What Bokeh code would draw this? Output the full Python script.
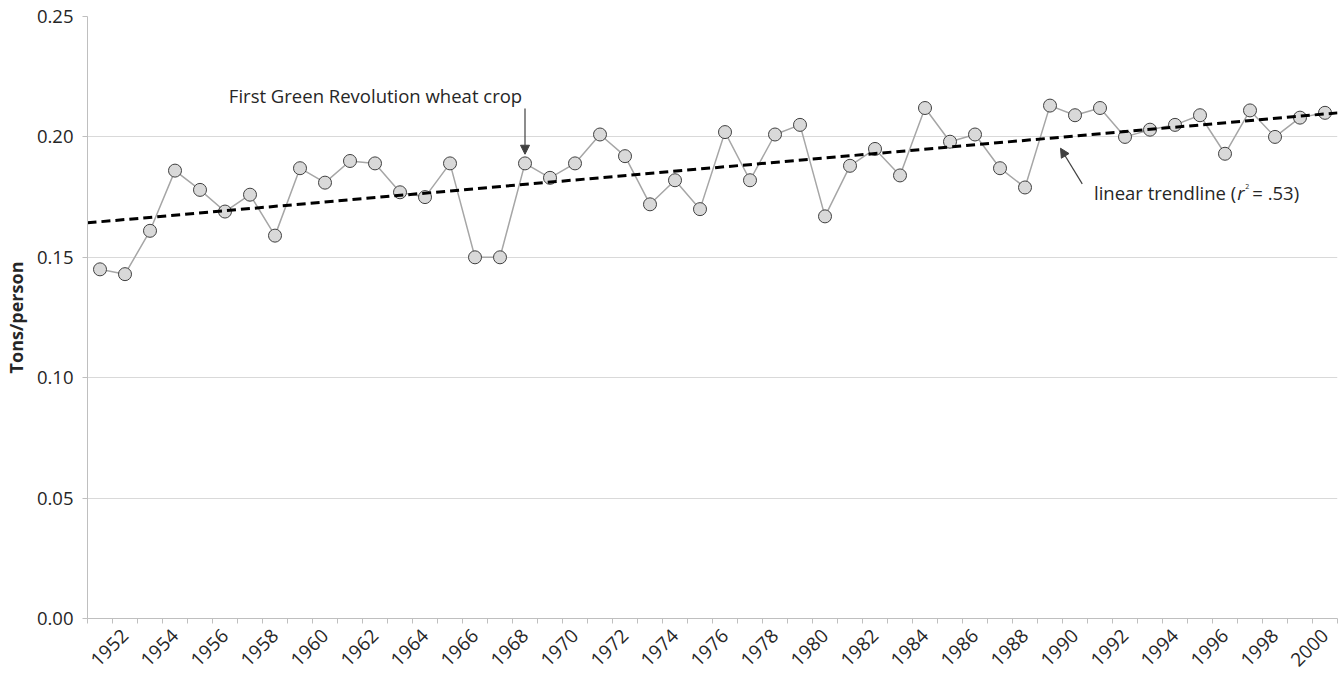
import numpy as np
from math import pi
from bokeh.plotting import figure
from bokeh.models import (FixedTicker, Label, Arrow, NormalHead, Range1d,
                          NumeralTickFormatter)
from bokeh.embed import file_html
from bokeh.resources import INLINE

# ---------------- data ----------------
years = list(range(1951, 2001))
tons = [0.145, 0.143, 0.161, 0.186, 0.178, 0.169, 0.176, 0.159, 0.187, 0.181,
        0.190, 0.189, 0.177, 0.175, 0.189, 0.150, 0.150, 0.189, 0.183, 0.189,
        0.201, 0.192, 0.172, 0.182, 0.170, 0.202, 0.182, 0.201, 0.205, 0.167,
        0.188, 0.195, 0.184, 0.212, 0.198, 0.201, 0.187, 0.179, 0.213, 0.209,
        0.212, 0.200, 0.203, 0.205, 0.209, 0.193, 0.211, 0.200, 0.208, 0.210]
y_ticks = [0.00, 0.05, 0.10, 0.15, 0.20, 0.25]
x_label_years = list(range(1952, 2001, 2))
annot_year = 1968
annot_text = "First Green Revolution wheat crop"
trend_text = "linear trendline ("
r2_text = "= .53)"

FONT = "Open Sans"
TXT = "#262626"

x0, x1 = years[0] - 0.5, years[-1] + 0.5
p = figure(frame_width=1250, frame_height=602, output_backend="svg",
           toolbar_location=None, x_range=Range1d(x0, x1), y_range=Range1d(0, 0.25),
           min_border_left=87, min_border_top=16, min_border_right=2,
           min_border_bottom=56)
p.outline_line_color = None
p.background_fill_color = "white"

# axes
p.xgrid.grid_line_color = None
p.ygrid.grid_line_color = "#d9d9d9"
p.ygrid.grid_line_width = 1
p.yaxis.ticker = FixedTicker(ticks=y_ticks)
p.yaxis.formatter = NumeralTickFormatter(format="0.00")
p.yaxis.major_label_text_font = FONT
p.yaxis.major_label_text_font_size = "18.5px"
p.yaxis.major_label_text_color = TXT
p.yaxis.axis_line_color = "#bfbfbf"
p.yaxis.major_tick_line_color = "#bfbfbf"
p.yaxis.major_tick_out = 5
p.yaxis.major_tick_in = 0
p.yaxis.minor_tick_line_color = None
p.yaxis.axis_label = "Tons/person"
p.yaxis.axis_label_text_font = FONT
p.yaxis.axis_label_text_font_style = "bold"
p.yaxis.axis_label_text_font_size = "18px"
p.yaxis.axis_label_text_color = TXT
p.yaxis.axis_label_standoff = 6
p.yaxis.major_label_standoff = 9

p.xaxis.ticker = FixedTicker(ticks=x_label_years,
                             minor_ticks=[y - 0.5 for y in years] + [x1])
p.xaxis.major_tick_line_color = None
p.xaxis.minor_tick_line_color = "#bfbfbf"
p.xaxis.minor_tick_out = 5
p.xaxis.minor_tick_in = 0
p.xaxis.axis_line_color = "#bfbfbf"
p.xaxis.major_label_orientation = pi / 4
p.xaxis.major_label_text_font = FONT
p.xaxis.major_label_text_font_size = "19px"
p.xaxis.major_label_text_color = TXT
p.xaxis.major_label_standoff = 8

# series
p.line(years, tons, line_color="#a6a6a6", line_width=1.5)
p.scatter(years, tons, size=13, fill_color="#d9d9d9", line_color="#404040",
          line_width=1)

# linear trendline (least squares on the data)
slope, inter = np.polyfit(years, tons, 1)
p.line([x0, x1], [slope * x0 + inter, slope * x1 + inter], line_color="black",
       line_width=3, line_dash="9 5")

# annotations
p.add_layout(Label(x=1962.02, y=0.2172, text=annot_text, text_align="center",
                   text_baseline="middle", text_font=FONT, text_font_size="18.5px",
                   text_color=TXT))
p.add_layout(Arrow(x_start=annot_year, y_start=0.2118, x_end=annot_year, y_end=0.1928,
                   line_color="#404040", line_width=1.2,
                   end=NormalHead(size=9, fill_color="#404040", line_color="#404040")))

p.add_layout(Arrow(x_start=1990.29, y_start=0.1805, x_end=1989.42, y_end=0.1953,
                   line_color="#404040", line_width=1.2,
                   end=NormalHead(size=9, fill_color="#404040", line_color="#404040")))
lx, ly = 1996.45, 0.1770
p.add_layout(Label(x=lx, y=ly, text=trend_text, text_align="right",
                   text_baseline="middle", text_font=FONT, text_font_size="18.5px",
                   text_color=TXT))
p.add_layout(Label(x=lx, y=ly, x_offset=1, text="r", text_align="left",
                   text_baseline="middle", text_font=FONT, text_font_size="18.5px",
                   text_font_style="italic", text_color=TXT))
p.add_layout(Label(x=lx, y=ly, x_offset=9, y_offset=6, text="2", text_align="left",
                   text_baseline="middle", text_font=FONT, text_font_size="7px",
                   text_color=TXT))
p.add_layout(Label(x=lx, y=ly, x_offset=16, text=r2_text, text_align="left",
                   text_baseline="middle", text_font=FONT, text_font_size="18.5px",
                   text_color=TXT))

open("out.html", "w").write(file_html(p, INLINE))
